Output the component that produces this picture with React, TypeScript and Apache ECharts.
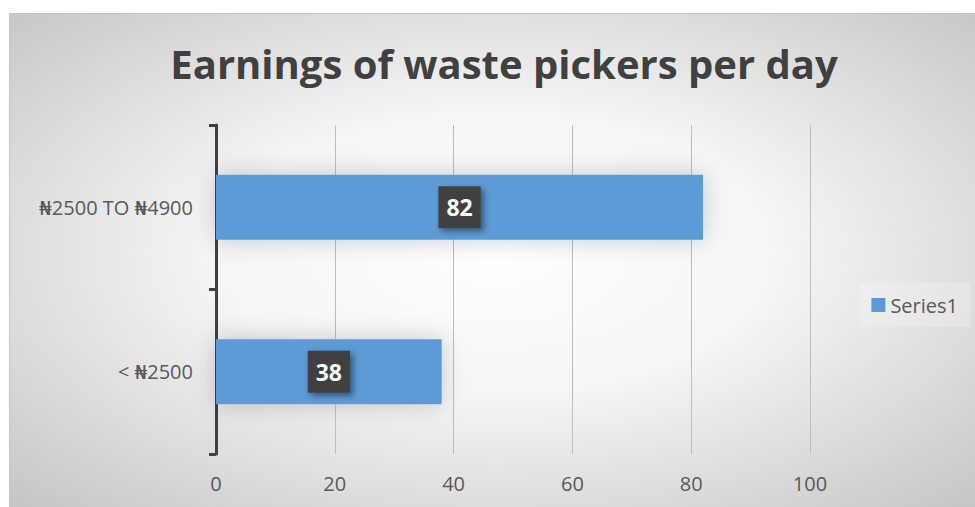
import React, { useEffect, useRef } from "react";
import * as echarts from "echarts";

const titleText = "Earnings of waste pickers per day";
const categories = ["< ₦2500", "₦2500 TO ₦4900"];
const seriesName = "Series1";
const values = [38, 82];
const xTicks = { min: 0, max: 100, interval: 20 };

export default function App() {
  const ref = useRef<HTMLDivElement>(null);
  useEffect(() => {
    if (!ref.current) return;
    const chart = echarts.init(ref.current, null, { renderer: "svg" });
    const font = "'Open Sans', 'DejaVu Sans', sans-serif";
    chart.setOption({
      animation: false,
      graphic: [
        {
          type: "rect",
          z: -100,
          silent: true,
          shape: { x: 9.5, y: 13.5, width: 975, height: 500 },
          style: {
            fill: {
              type: "radial",
              x: 0.5,
              y: 0.48,
              r: 0.72,
              colorStops: [
                { offset: 0, color: "#ffffff" },
                { offset: 0.4, color: "#f5f5f5" },
                { offset: 1, color: "#c4c4c4" },
              ],
            },
            stroke: "#c4c4c4",
            lineWidth: 1,
          },
        },
      ],
      title: {
        text: titleText,
        left: 499,
        top: 38,
        textAlign: "center",
        textStyle: {
          fontFamily: font,
          fontWeight: "bold",
          fontSize: 40,
          color: "#404040",
        },
      },
      legend: {
        data: [seriesName],
        right: 5,
        top: 283,
        orient: "vertical",
        itemWidth: 14,
        itemHeight: 14,
        itemGap: 4,
        padding: [12, 12, 12, 12],
        backgroundColor: "rgba(255,255,255,0.22)",
        icon: "rect",
        textStyle: { fontFamily: font, fontSize: 20, color: "#595959" },
      },
      grid: { left: 216, right: 165, top: 125, bottom: 53, containLabel: false },
      xAxis: {
        type: "value",
        min: xTicks.min,
        max: xTicks.max,
        interval: xTicks.interval,
        axisLine: { show: false },
        axisTick: { show: false },
        splitLine: { show: true, lineStyle: { color: "#bdbdbd", width: 1 } },
        axisLabel: { fontFamily: font, fontSize: 20, color: "#595959", margin: 19 },
      },
      yAxis: {
        type: "category",
        data: categories,
        axisLine: { show: true, lineStyle: { color: "#404040", width: 3 } },
        axisTick: { show: true, length: 7, lineStyle: { color: "#404040", width: 3 } },
        axisLabel: { fontFamily: font, fontSize: 20, color: "#595959", margin: 23 },
        splitLine: { show: false },
      },
      series: [
        {
          name: seriesName,
          type: "bar",
          data: values,
          barWidth: 65,
          itemStyle: {
            color: "#5b9bd5",
            shadowColor: "rgba(0,0,0,0.2)",
            shadowBlur: 24,
          },
          label: {
            show: true,
            position: "inside",
            fontFamily: font,
            fontWeight: "bold",
            fontSize: 23,
            color: "#ffffff",
            lineHeight: 26,
            backgroundColor: "#404040",
            padding: [8, 8, 8, 8],
            shadowColor: "rgba(0,0,0,0.45)",
            shadowBlur: 6,
            shadowOffsetX: 3,
            shadowOffsetY: 3,
          },
        },
      ],
    });
    return () => chart.dispose();
  }, []);
  return (
    <div
      ref={ref}
      style={{ position: "absolute", left: 0, top: 0, width: 975, height: 507, background: "#ffffff" }}
    />
  );
}
